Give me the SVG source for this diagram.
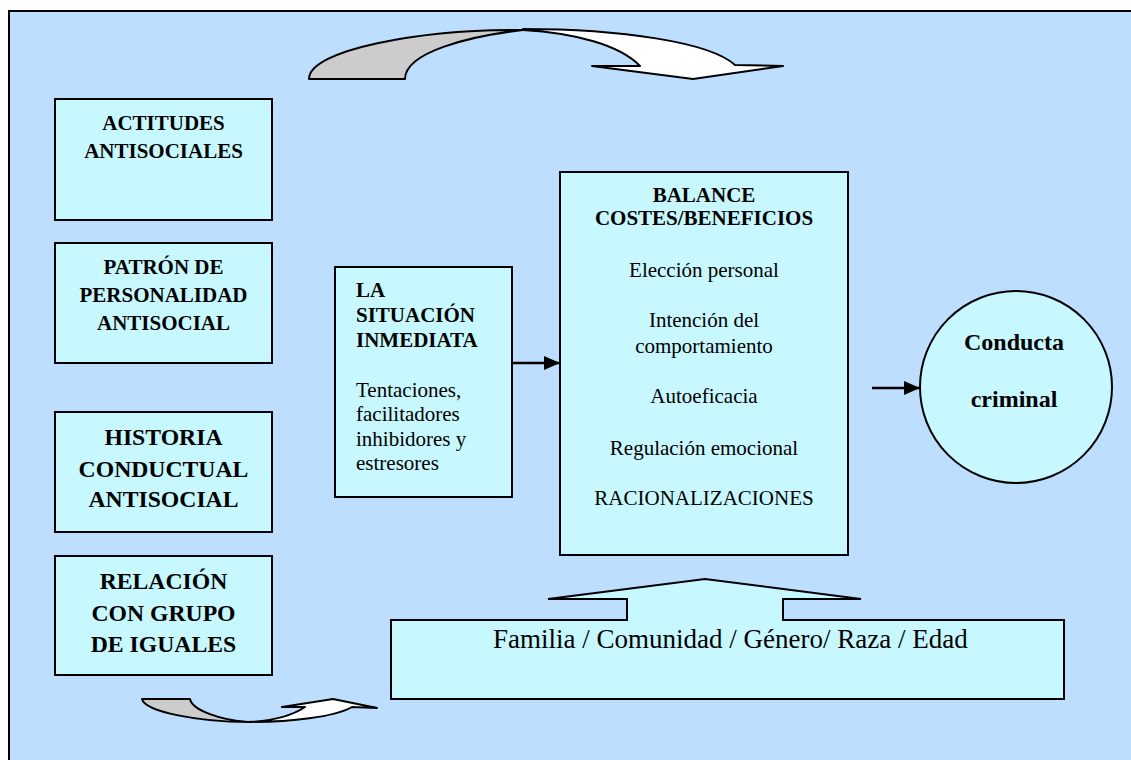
<svg xmlns="http://www.w3.org/2000/svg" width="1131" height="760" viewBox="0 0 1131 760">
<defs>
<style>
.box{fill:#c8f8ff;stroke:#000;stroke-width:2}
.b{font-family:"Liberation Serif",serif;font-weight:bold;fill:#000}
.n{font-family:"Liberation Serif",serif;fill:#000}
.ln{stroke:#000;stroke-width:2.5;fill:none}
.sh{stroke:#000;stroke-width:2;stroke-linejoin:round}
</style>
<marker id="ah" markerWidth="16" markerHeight="14" refX="16" refY="7" orient="auto" markerUnits="userSpaceOnUse">
<path d="M0,0 L16,7 L0,14 Z" fill="#000"/>
</marker>
</defs>
<rect x="0" y="0" width="1131" height="760" fill="#fff"/>
<rect id="frame" x="9" y="11" width="1140" height="760" fill="#bddefe" stroke="#000" stroke-width="2"/>

<g id="connectors">
<path class="sh" fill="#cccccc" d="M309,79 L405,79 C405,52 470,36 523,30 C420,29 309,50 309,79 Z"/>
<path class="sh" fill="#ffffff" d="M523,29 C620,29 710,42 735,65 L783,66 L693,79 L592,66 L640,66 C620,45 575,33 523,30 Z"/>
<path class="sh" fill="#cccccc" d="M142,699 L190,699 C192,710 220,720 248,722 C200,722 145,712 142,699 Z"/>
<path class="sh" fill="#ffffff" d="M248,722 C290,722 335,717 352,707 L377,708 L333,699 L282,707 L305,707 C290,717 270,721 248,722 Z"/>
<line class="ln" x1="512" y1="363" x2="560" y2="363" marker-end="url(#ah)"/>
<line class="ln" x1="872" y1="388" x2="920" y2="388" marker-end="url(#ah)"/>
</g>

<g id="actitudes">
<rect class="box" x="55" y="99" width="217" height="121"/>
<text class="b" font-size="21" text-anchor="middle"><tspan x="163.5" y="130">ACTITUDES</tspan><tspan x="163.5" y="158">ANTISOCIALES</tspan></text>
</g>
<g id="patron">
<rect class="box" x="55" y="243" width="217" height="120"/>
<text class="b" font-size="21" text-anchor="middle"><tspan x="163.5" y="274">PATRÓN DE</tspan><tspan x="163.5" y="302">PERSONALIDAD</tspan><tspan x="163.5" y="330">ANTISOCIAL</tspan></text>
</g>
<g id="historia">
<rect class="box" x="55" y="412" width="217" height="120"/>
<text class="b" font-size="23.7" text-anchor="middle"><tspan x="163.5" y="445">HISTORIA</tspan><tspan x="163.5" y="477">CONDUCTUAL</tspan><tspan x="163.5" y="507">ANTISOCIAL</tspan></text>
</g>
<g id="relacion">
<rect class="box" x="55" y="556" width="217" height="119"/>
<text class="b" font-size="23.7" text-anchor="middle"><tspan x="163.5" y="589">RELACIÓN</tspan><tspan x="163.5" y="621">CON GRUPO</tspan><tspan x="163.5" y="652">DE IGUALES</tspan></text>
</g>

<g id="situacion">
<rect class="box" x="335" y="267" width="177" height="230"/>
<text class="b" font-size="21"><tspan x="356" y="297">LA</tspan><tspan x="356" y="322">SITUACIÓN</tspan><tspan x="356" y="347">INMEDIATA</tspan></text>
<text class="n" font-size="21"><tspan x="356" y="397">Tentaciones,</tspan><tspan x="356" y="421">facilitadores</tspan><tspan x="356" y="446">inhibidores y</tspan><tspan x="356" y="470">estresores</tspan></text>
</g>

<g id="balance">
<rect class="box" x="560" y="172" width="288" height="383"/>
<text class="b" font-size="21" text-anchor="middle"><tspan x="704" y="202">BALANCE</tspan><tspan x="704" y="225">COSTES/BENEFICIOS</tspan></text>
<text class="n" font-size="21" text-anchor="middle"><tspan x="704" y="277">Elección personal</tspan><tspan x="704" y="327">Intención del</tspan><tspan x="704" y="353">comportamiento</tspan><tspan x="704" y="403">Autoeficacia</tspan><tspan x="704" y="455">Regulación emocional</tspan><tspan x="704" y="505">RACIONALIZACIONES</tspan></text>
</g>

<g id="conducta">
<circle class="box" cx="1016" cy="387" r="96"/>
<text class="b" font-size="24" text-anchor="middle"><tspan x="1014" y="350">Conducta</tspan><tspan x="1014" y="407">criminal</tspan></text>
</g>

<g id="contexto">
<path class="box" stroke-linejoin="miter" d="M391,620 L627,620 L627,599 L548,599 L705,579 L861,599 L783,599 L783,620 L1064,620 L1064,699 L391,699 Z"/>
<text class="n" font-size="27" x="493" y="648">Familia / Comunidad / Género/ Raza / Edad</text>
</g>
</svg>
